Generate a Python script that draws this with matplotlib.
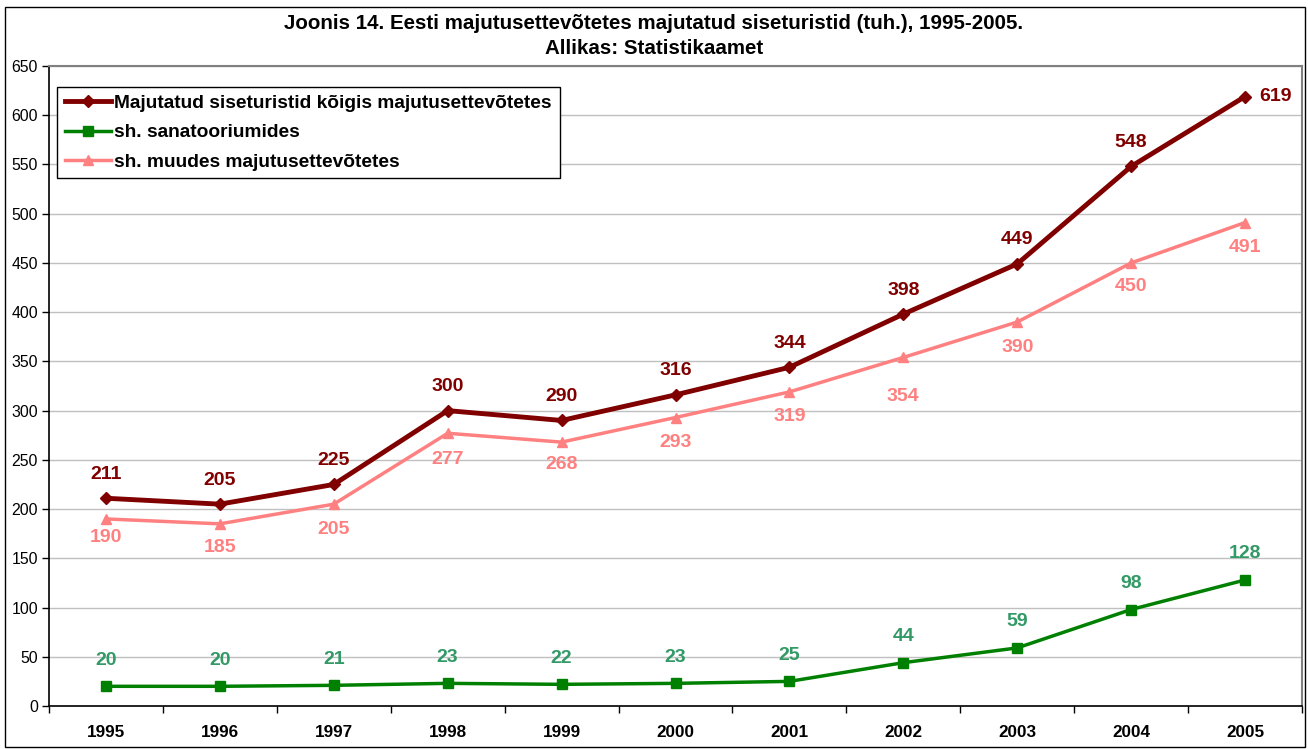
import matplotlib
matplotlib.use("Agg")
import matplotlib.pyplot as plt
from matplotlib.patches import Rectangle

plt.rcParams['font.family'] = ['Liberation Sans', 'DejaVu Sans']

years = ['1995', '1996', '1997', '1998', '1999', '2000', '2001', '2002', '2003', '2004', '2005']
total = [211, 205, 225, 300, 290, 316, 344, 398, 449, 548, 619]
sanatorium = [20, 20, 21, 23, 22, 23, 25, 44, 59, 98, 128]
other = [190, 185, 205, 277, 268, 293, 319, 354, 390, 450, 491]

# label offsets (pixels) below the pink points, as placed in the original
other_label_dy = [19, 24, 25, 26, 22, 25, 25, 39, 25, 24, 25]

c_total = '#800000'
c_san = '#008000'
c_san_lbl = '#339966'
c_other = '#FF8080'

fig = plt.figure(figsize=(13.08, 7.49), dpi=100)
ax = fig.add_axes([49/1308, 43/749, (1302-49)/1308, (706-66)/749])

x = list(range(len(years)))
ax.plot(x, total, color=c_total, lw=3.5, marker='D', ms=6, label='Majutatud siseturistid kõigis majutusettevõtetes', zorder=4)
ax.plot(x, sanatorium, color=c_san, lw=2.5, marker='s', ms=7, label='sh. sanatooriumides', zorder=3)
ax.plot(x, other, color=c_other, lw=2.5, marker='^', ms=7, label='sh. muudes majutusettevõtetes', zorder=3)

px = 0.72  # points per pixel at dpi 100
lfs = 14
for i, v in enumerate(total):
    if i == len(total) - 1:
        ax.annotate(str(v), (i, v), xytext=(10, 0), textcoords='offset points', ha='left', va='center',
                    color=c_total, fontsize=lfs, fontweight='bold')
    else:
        ax.annotate(str(v), (i, v), xytext=(0, 24 * px), textcoords='offset points', ha='center', va='center',
                    color=c_total, fontsize=lfs, fontweight='bold')
for i, v in enumerate(other):
    ax.annotate(str(v), (i, v), xytext=(0, -other_label_dy[i] * px), textcoords='offset points', ha='center', va='center',
                color=c_other, fontsize=lfs, fontweight='bold')
for i, v in enumerate(sanatorium):
    ax.annotate(str(v), (i, v), xytext=(0, 26 * px), textcoords='offset points', ha='center', va='center',
                color=c_san_lbl, fontsize=lfs, fontweight='bold')

ax.set_xlim(-0.5, len(years) - 0.5)
ax.set_ylim(0, 650)
ax.set_yticks(range(0, 651, 50))
ax.set_xticks(x)
ax.set_xticklabels(years, fontweight='bold', fontsize=12.3)
ax.set_xticks([i - 0.5 for i in range(len(years) + 1)], minor=True)
ax.tick_params(axis='x', which='major', length=0, pad=14)
ax.tick_params(axis='x', which='minor', length=5, width=1, direction='out')
ax.tick_params(axis='y', length=5, width=1, direction='out', labelsize=11.4, pad=3)
ax.yaxis.grid(True, color='#c0c0c0', lw=1)
ax.set_axisbelow(True)
for s in ['left', 'bottom']:
    ax.spines[s].set_color('black')
    ax.spines[s].set_linewidth(1.2)
for s in ['top', 'right']:
    ax.spines[s].set_color('#808080')
    ax.spines[s].set_linewidth(1.5)

leg = ax.legend(loc='upper left', bbox_to_anchor=(8/1253, 1 - 21/640), borderaxespad=0,
                prop={'weight': 'bold', 'size': 13.8},
                frameon=True, fancybox=False, edgecolor='black', framealpha=1, borderpad=0.4,
                handlelength=2.4, handletextpad=0.2, labelspacing=0.62)
leg.get_frame().set_linewidth(1)

fig.text(0.5, 1 - 36/749, 'Joonis 14. Eesti majutusettevõtetes majutatud siseturistid (tuh.), 1995-2005.\nAllikas: Statistikaamet',
         ha='center', va='center', fontsize=14.8, fontweight='bold', linespacing=1.36)

fig.patches.append(Rectangle((5/1308, 2/749), 1300/1308, 740/749, transform=fig.transFigure,
                             fill=False, edgecolor='black', lw=1))

fig.savefig('out.png', dpi=100)
